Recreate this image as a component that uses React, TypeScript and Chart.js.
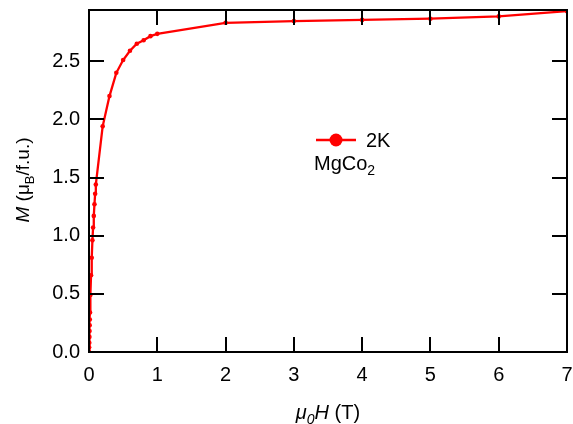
import React, { useEffect, useRef } from "react";
import { Chart, registerables } from "chart.js";

Chart.register(...registerables);

// Magnetization curve of MgCo2 at 2 K
const fieldT = [
  0, 0.002, 0.004, 0.006, 0.008, 0.01, 0.012, 0.015, 0.02, 0.03, 0.04, 0.05,
  0.06, 0.07, 0.08, 0.09, 0.1, 0.2, 0.3, 0.4, 0.5, 0.6, 0.7, 0.8, 0.9, 1.0,
  2, 3, 4, 5, 6, 7,
];
const moment = [
  0.0, 0.04, 0.08, 0.13, 0.18, 0.23, 0.28, 0.34, 0.49, 0.66, 0.81, 0.96,
  1.07, 1.17, 1.27, 1.36, 1.44, 1.94, 2.2, 2.4, 2.51, 2.59, 2.65, 2.68, 2.715,
  2.735, 2.83, 2.845, 2.855, 2.865, 2.885, 2.93,
];
const xTicks = [0, 1, 2, 3, 4, 5, 6, 7];
const yTicks = [0, 0.5, 1.0, 1.5, 2.0, 2.5];
const seriesLabel = "2K";
const sampleName = "MgCo";
const sampleSub = "2";

const FONT = "'Liberation Sans', Arial, sans-serif";
const RED = "#ff0000";

type Part = { t: string; italic?: boolean; sub?: boolean };

function drawParts(ctx: CanvasRenderingContext2D, parts: Part[], size: number, cx: number, baseY: number) {
  const fontOf = (p: Part) =>
    `${p.italic ? "italic " : ""}${p.sub ? Math.round(size * 0.7) : size}px ${FONT}`;
  let total = 0;
  for (const p of parts) {
    ctx.font = fontOf(p);
    total += ctx.measureText(p.t).width;
  }
  let x = cx - total / 2;
  ctx.textAlign = "left";
  ctx.textBaseline = "alphabetic";
  for (const p of parts) {
    ctx.font = fontOf(p);
    ctx.fillText(p.t, x, p.sub ? baseY + size * 0.25 : baseY);
    x += ctx.measureText(p.t).width;
  }
}

const framePlugin = {
  id: "frame",
  afterDraw(chart: any) {
    const { ctx, chartArea: a, scales } = chart;
    const tickLen = 15;
    ctx.save();
    ctx.strokeStyle = "#000";
    ctx.lineWidth = 2;
    ctx.beginPath();
    // inward ticks on all four sides
    for (const v of xTicks) {
      const px = Math.round(scales.x.getPixelForValue(v));
      ctx.moveTo(px, a.bottom);
      ctx.lineTo(px, a.bottom - tickLen);
      ctx.moveTo(px, a.top);
      ctx.lineTo(px, a.top + tickLen);
    }
    for (const v of yTicks) {
      const py = Math.round(scales.y.getPixelForValue(v));
      ctx.moveTo(a.left, py);
      ctx.lineTo(a.left + tickLen, py);
      ctx.moveTo(a.right, py);
      ctx.lineTo(a.right - tickLen, py);
    }
    ctx.stroke();
    ctx.strokeRect(a.left, a.top, a.right - a.left, a.bottom - a.top);

    ctx.fillStyle = "#000";
    // x axis title: μ0H (T)
    drawParts(
      ctx,
      [
        { t: "\u03bc", italic: true },
        { t: "0", italic: true, sub: true },
        { t: "H", italic: true },
        { t: " (T)" },
      ],
      20,
      (a.left + a.right) / 2,
      419
    );
    // y axis title: M (μB/f.u.)
    ctx.save();
    ctx.translate(29, 180);
    ctx.rotate(-Math.PI / 2);
    drawParts(
      ctx,
      [
        { t: "M", italic: true },
        { t: " (\u03bc" },
        { t: "B", sub: true },
        { t: "/f.u.)" },
      ],
      19,
      0,
      0
    );
    ctx.restore();

    // legend entry
    const lx = a.left + 227;
    const ly = a.top + 130;
    ctx.strokeStyle = RED;
    ctx.lineWidth = 2.5;
    ctx.beginPath();
    ctx.moveTo(lx, ly);
    ctx.lineTo(lx + 40, ly);
    ctx.stroke();
    ctx.fillStyle = RED;
    ctx.beginPath();
    ctx.arc(lx + 20, ly, 6.5, 0, Math.PI * 2);
    ctx.fill();
    ctx.fillStyle = "#000";
    ctx.font = `20px ${FONT}`;
    ctx.textAlign = "left";
    ctx.textBaseline = "alphabetic";
    ctx.fillText(seriesLabel, lx + 50, ly + 7);
    ctx.fillText(sampleName, lx - 2, ly + 30);
    const w = ctx.measureText(sampleName).width;
    ctx.font = `14px ${FONT}`;
    ctx.fillText(sampleSub, lx - 2 + w, ly + 35);
    ctx.restore();
  },
};

export default function App() {
  const ref = useRef<HTMLCanvasElement>(null);
  useEffect(() => {
    if (!ref.current) return;
    const chart = new Chart(ref.current, {
      type: "line",
      data: {
        datasets: [
          {
            label: seriesLabel,
            data: fieldT.map((x, i) => ({ x, y: moment[i] })),
            borderColor: RED,
            backgroundColor: RED,
            borderWidth: 2.3,
            pointRadius: 2.3,
            pointBorderWidth: 0,
            tension: 0,
          },
        ],
      },
      options: {
        responsive: false,
        animation: false,
        layout: { padding: { top: 10, right: 6, left: 0, bottom: 0 } },
        plugins: { legend: { display: false }, tooltip: { enabled: false } },
        scales: {
          x: {
            type: "linear",
            min: 0,
            max: 7,
            afterFit: (s: any) => {
              s.height = 72;
              s.paddingLeft = 0;
              s.paddingRight = 0;
            },
            afterBuildTicks: (s: any) => {
              s.ticks = xTicks.map((v) => ({ value: v }));
            },
            grid: { display: true, drawOnChartArea: false, drawTicks: false, color: "rgba(0,0,0,0)" },
            border: { display: false },
            ticks: {
              padding: 11,
              color: "#000",
              font: { family: FONT, size: 20 },
              maxRotation: 0,
              callback: (v: any) => String(v),
            },
          },
          y: {
            type: "linear",
            min: 0,
            max: 2.94,
            afterFit: (s: any) => {
              s.width = 89;
              s.paddingTop = 0;
              s.paddingBottom = 0;
            },
            afterBuildTicks: (s: any) => {
              s.ticks = yTicks.map((v) => ({ value: v }));
            },
            grid: { display: true, drawOnChartArea: false, drawTicks: false, color: "rgba(0,0,0,0)" },
            border: { display: false },
            ticks: {
              padding: 9,
              color: "#000",
              font: { family: FONT, size: 20 },
              callback: (v: any) => Number(v).toFixed(1),
            },
          },
        },
      },
      plugins: [framePlugin],
    });
    return () => chart.destroy();
  }, []);
  return (
    <div style={{ position: "fixed", left: 0, top: 0, width: 573, height: 424, background: "#fff" }}>
      <canvas ref={ref} width={573} height={424} style={{ display: "block" }} />
    </div>
  );
}
